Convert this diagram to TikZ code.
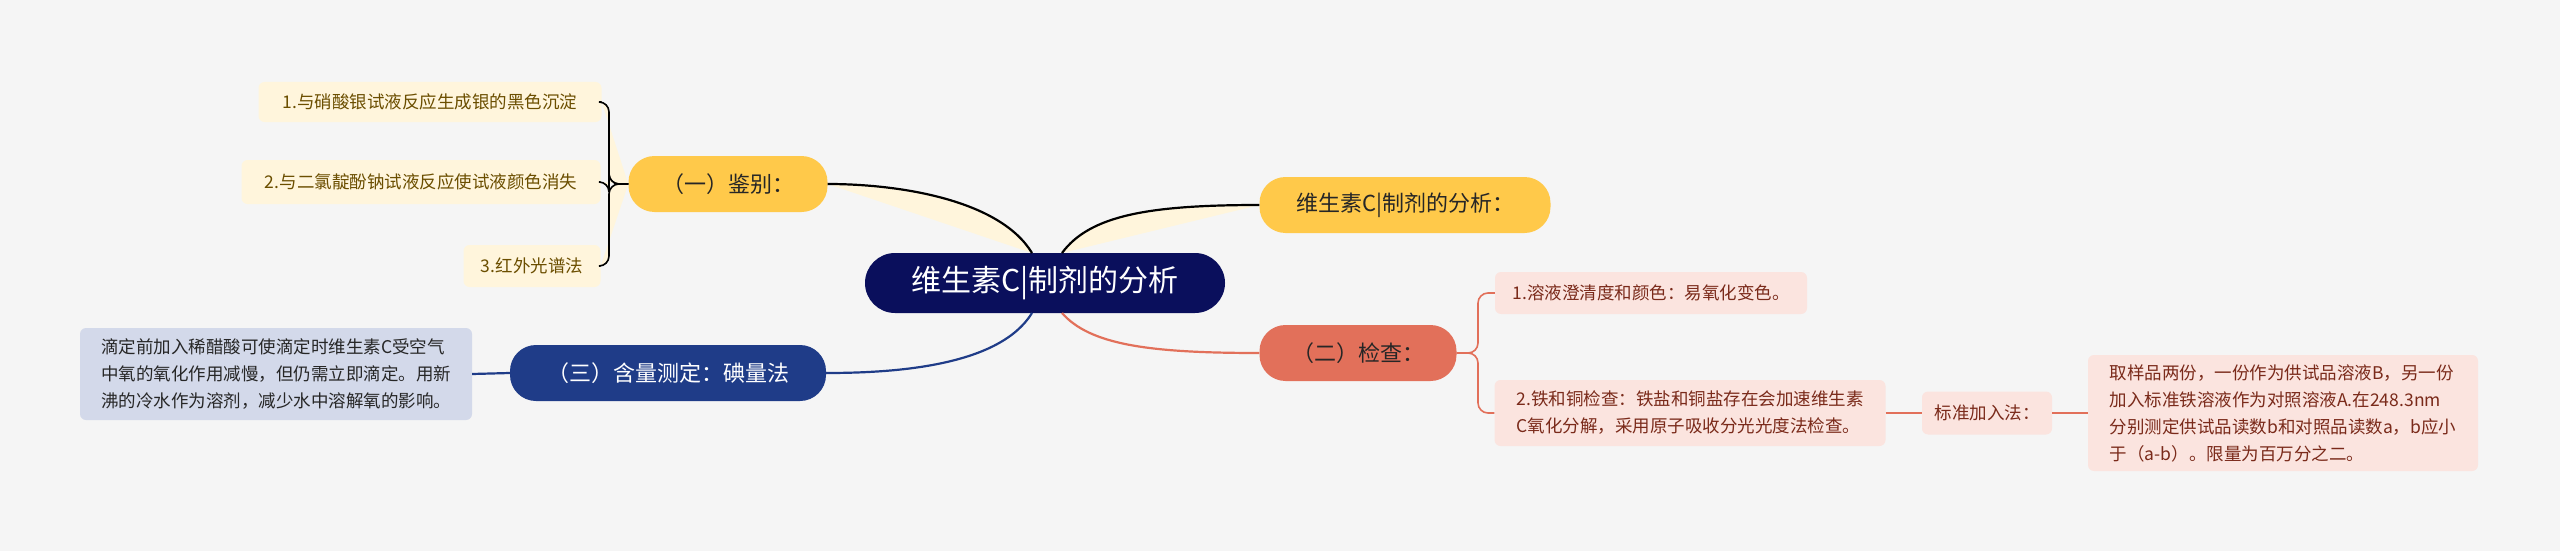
\documentclass[tikz,border=0pt]{standalone}
\usepackage{fontspec}
\setmainfont{Noto Sans CJK SC}
\begin{document}
\begin{tikzpicture}[x=1pt,y=-1pt,
 main/.style={rounded corners=26pt,minimum height=56pt,inner sep=0pt,font=\fontsize{22}{26}\selectfont},
 leaf/.style={rounded corners=6pt,inner xsep=8pt,inner ysep=8pt,font=\fontsize{17.5}{27}\selectfont,align=left},
 yl/.style={leaf,fill=ylf,text=ylt},
 rl/.style={leaf,fill=rdf,text=rdt},
 con/.style={line width=2.2pt,rounded corners=10pt}]
\definecolor{bg}{HTML}{F5F5F5}
\definecolor{navy}{HTML}{0A0F5C}
\definecolor{yl}{HTML}{FFC94A}
\definecolor{rd}{HTML}{E2705A}
\definecolor{bl}{HTML}{1F3C88}
\definecolor{ylf}{HTML}{FFF5DC}
\definecolor{ylt}{HTML}{6B4E00}
\definecolor{rdf}{HTML}{FBE4DF}
\definecolor{rdt}{HTML}{7A2A1A}
\definecolor{blf}{HTML}{D3D9EA}
\fill[bg] (0,0) rectangle (2560,551);
\useasboundingbox (0,0) rectangle (2560,551);
\node[main,fill=navy,text=white,minimum width=360pt,minimum height=60pt,rounded corners=30pt,font=\fontsize{30}{34}\selectfont] (c) at (1045,283) {维生素C|制剂的分析};
\node[main,fill=yl,minimum width=199pt,text=black!85] (a) at (728,184) {（一）鉴别：};
\node[main,fill=yl,minimum width=291pt,text=black!85] (b) at (1405,205) {维生素C|制剂的分析：};
\node[main,fill=rd,minimum width=197pt,text=black!85] (d) at (1358,353) {（二）检查：};
\node[main,fill=bl,minimum width=316pt,text=white] (e) at (668,373) {（三）含量测定：碘量法};
\node[yl,minimum width=343pt,minimum height=40pt,align=center] (a1) at (430,102) {1.与硝酸银试液反应生成银的黑色沉淀};
\node[yl,minimum width=359pt,minimum height=44pt,align=center] (a2) at (421,182) {2.与二氯靛酚钠试液反应使试液颜色消失};
\node[yl,minimum width=137pt,minimum height=42pt,align=center] (a3) at (532,266) {3.红外光谱法};
\node[leaf,fill=blf,text=black!85,minimum width=392pt,minimum height=92pt] (e1) at (276,374) {滴定前加入稀醋酸可使滴定时维生素C受空气\\中氧的氧化作用减慢，但仍需立即滴定。用新\\沸的冷水作为溶剂，减少水中溶解氧的影响。};
\node[rl,minimum width=312pt,minimum height=42pt] (d1) at (1651,293) {1.溶液澄清度和颜色：易氧化变色。};
\node[rl,minimum width=391pt,minimum height=66pt] (d2) at (1690,413) {2.铁和铜检查：铁盐和铜盐存在会加速维生素\\C氧化分解，采用原子吸收分光光度法检查。};
\node[rl,minimum width=130pt,minimum height=43pt,align=center] (f) at (1987,413) {标准加入法：};
\node[rl,minimum width=390pt,minimum height=116pt] (g) at (2283,413) {取样品两份，一份作为供试品溶液B，另一份\\加入标准铁溶液作为对照溶液A.在248.3nm\\分别测定供试品读数b和对照品读数a，b应小\\于（a-b）。限量为百万分之二。};
\coordinate (lb) at (609,0);
\coordinate (rb) at (1478,0);
\draw[yl,line width=2.2pt] (1032,253) .. controls (1000,200) and (900,184) .. (a.east);
\draw[yl,line width=2.2pt] (1062,253) .. controls (1090,215) and (1150,205) .. (b.west);
\draw[rd,line width=2.2pt] (1062,313) .. controls (1090,345) and (1150,353) .. (d.west);
\draw[bl,line width=2.2pt] (1032,313) .. controls (1000,365) and (900,373) .. (e.east);
\foreach \n in {a1,a2,a3} \draw[yl,con,line width=1.6pt] (a.west) -- (a.west -| lb) |- (\n.east);
\foreach \n in {d1,d2} \draw[rd,con,line width=1.6pt] (d.east) -- (d.east -| rb) |- (\n.west);
\draw[bl,line width=2.2pt] (e.west) -- (e1.east);
\draw[rd,line width=2.2pt] (d2.east) -- (f.west);
\draw[rd,line width=2.2pt] (f.east) -- (g.west);
\end{tikzpicture}
\end{document}
